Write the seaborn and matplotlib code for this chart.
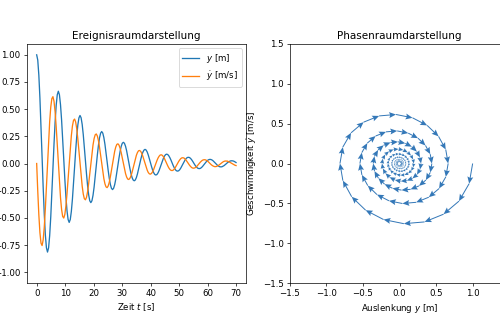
import numpy as np
import pandas as pd
import matplotlib
matplotlib.use("Agg")
import matplotlib.pyplot as plt
import seaborn as sns

# time samples [s]
t_s = [
    0.00, 0.38, 0.76, 1.14, 1.52, 1.90, 2.28, 2.66, 3.04, 3.42,
    3.80, 4.18, 4.56, 4.94, 5.32, 5.70, 6.08, 6.46, 6.84, 7.22,
    7.60, 7.98, 8.36, 8.74, 9.12, 9.50, 9.88, 10.26, 10.64, 11.02,
    11.40, 11.78, 12.16, 12.54, 12.92, 13.30, 13.68, 14.06, 14.44, 14.82,
    15.20, 15.58, 15.96, 16.34, 16.72, 17.10, 17.48, 17.86, 18.24, 18.62,
    19.00, 19.38, 19.76, 20.14, 20.52, 20.90, 21.28, 21.66, 22.04, 22.42,
    22.80, 23.18, 23.56, 23.94, 24.32, 24.70, 25.08, 25.46, 25.84, 26.22,
    26.60, 26.98, 27.36, 27.74, 28.12, 28.50, 28.88, 29.26, 29.64, 30.02,
    30.40, 30.78, 31.16, 31.54, 31.92, 32.30, 32.68, 33.06, 33.44, 33.82,
    34.20, 34.58, 34.96, 35.34, 35.72, 36.10, 36.48, 36.86, 37.24, 37.62,
    38.00, 38.38, 38.76, 39.14, 39.52, 39.90, 40.28, 40.66, 41.04, 41.42,
    41.80, 42.18, 42.56, 42.94, 43.32, 43.70, 44.08, 44.46, 44.84, 45.22,
    45.60, 45.98, 46.36, 46.74, 47.12, 47.50, 47.88, 48.26, 48.64, 49.02,
    49.40, 49.78, 50.16, 50.54, 50.92, 51.30, 51.68, 52.06, 52.44, 52.82,
    53.20, 53.58, 53.96, 54.34, 54.72, 55.10, 55.48, 55.86, 56.24, 56.62,
    57.00, 57.38, 57.76, 58.14, 58.52, 58.90, 59.28, 59.66, 60.04, 60.42,
    60.80, 61.18, 61.56, 61.94, 62.32, 62.70, 63.08, 63.46, 63.84, 64.22,
    64.60, 64.98, 65.36, 65.74, 66.12, 66.50, 66.88, 67.26, 67.64, 68.02,
    68.40, 68.78, 69.16, 69.54, 69.92,
]

# displacement y [m]
y_m = [
    1.000, 0.952, 0.813, 0.602, 0.342, 0.059, -0.219, -0.464, -0.655, -0.775,
    -0.815, -0.776, -0.663, -0.491, -0.279, -0.048, 0.178, 0.378, 0.534, 0.632,
    0.665, 0.633, 0.541, 0.400, 0.227, 0.039, -0.145, -0.309, -0.435, -0.515,
    -0.542, -0.516, -0.441, -0.327, -0.185, -0.032, 0.119, 0.252, 0.355, 0.420,
    0.442, 0.421, 0.360, 0.266, 0.151, 0.026, -0.097, -0.205, -0.289, -0.343,
    -0.360, -0.343, -0.293, -0.217, -0.123, -0.021, 0.079, 0.167, 0.236, 0.279,
    0.294, 0.280, 0.239, 0.177, 0.100, 0.017, -0.064, -0.136, -0.192, -0.228,
    -0.240, -0.228, -0.195, -0.144, -0.082, -0.014, 0.052, 0.111, 0.157, 0.186,
    0.195, 0.186, 0.159, 0.118, 0.067, 0.011, -0.043, -0.091, -0.128, -0.151,
    -0.159, -0.152, -0.130, -0.096, -0.054, -0.009, 0.035, 0.074, 0.104, 0.123,
    0.130, 0.124, 0.106, 0.078, 0.044, 0.008, -0.028, -0.060, -0.085, -0.101,
    -0.106, -0.101, -0.086, -0.064, -0.036, -0.006, 0.023, 0.049, 0.069, 0.082,
    0.086, 0.082, 0.070, 0.052, 0.030, 0.005, -0.019, -0.040, -0.057, -0.067,
    -0.070, -0.067, -0.057, -0.042, -0.024, -0.004, 0.015, 0.033, 0.046, 0.055,
    0.057, 0.055, 0.047, 0.035, 0.020, 0.003, -0.013, -0.027, -0.038, -0.045,
    -0.047, -0.045, -0.038, -0.028, -0.016, -0.003, 0.010, 0.022, 0.031, 0.036,
    0.038, 0.036, 0.031, 0.023, 0.013, 0.002, -0.008, -0.018, -0.025, -0.030,
    -0.031, -0.030, -0.025, -0.019, -0.011, -0.002, 0.007, 0.014, 0.020, 0.024,
    0.025, 0.024, 0.021, 0.015, 0.009,
]

# velocity y' [m/s]
v_ms = [
    0.000, -0.253, -0.472, -0.636, -0.733, -0.755, -0.703, -0.586, -0.417, -0.215,
    0.000, 0.206, 0.385, 0.519, 0.597, 0.615, 0.573, 0.478, 0.340, 0.175,
    0.000, -0.168, -0.314, -0.423, -0.487, -0.502, -0.468, -0.390, -0.277, -0.143,
    0.000, 0.137, 0.256, 0.345, 0.397, 0.409, 0.381, 0.318, 0.226, 0.117,
    0.000, -0.112, -0.208, -0.281, -0.324, -0.334, -0.311, -0.259, -0.184, -0.095,
    0.000, 0.091, 0.170, 0.229, 0.264, 0.272, 0.253, 0.211, 0.150, 0.077,
    0.000, -0.074, -0.139, -0.187, -0.215, -0.222, -0.207, -0.172, -0.123, -0.063,
    0.000, 0.061, 0.113, 0.152, 0.176, 0.181, 0.169, 0.140, 0.100, 0.052,
    0.000, -0.049, -0.092, -0.124, -0.143, -0.147, -0.137, -0.115, -0.082, -0.042,
    0.000, 0.040, 0.075, 0.101, 0.117, 0.120, 0.112, 0.093, 0.066, 0.034,
    0.000, -0.033, -0.061, -0.083, -0.095, -0.098, -0.091, -0.076, -0.054, -0.028,
    0.000, 0.027, 0.050, 0.067, 0.078, 0.080, 0.075, 0.062, 0.044, 0.023,
    0.000, -0.022, -0.041, -0.055, -0.063, -0.065, -0.061, -0.051, -0.036, -0.019,
    0.000, 0.018, 0.033, 0.045, 0.052, 0.053, 0.050, 0.041, 0.029, 0.015,
    0.000, -0.015, -0.027, -0.037, -0.042, -0.043, -0.040, -0.034, -0.024, -0.012,
    0.000, 0.012, 0.022, 0.030, 0.034, 0.035, 0.033, 0.027, 0.020, 0.010,
    0.000, -0.010, -0.018, -0.024, -0.028, -0.029, -0.027, -0.022, -0.016, -0.008,
    0.000, 0.008, 0.015, 0.020, 0.023, 0.023, 0.022, 0.018, 0.013, 0.007,
    0.000, -0.006, -0.012, -0.016, -0.019,
]

title_left = "Ereignisraumdarstellung"
title_right = "Phasenraumdarstellung"
label_y = "$y$ [m]"
label_v = r"$\dot{y}$ [m/s]"

df = pd.DataFrame({"t": t_s, "y": y_m, "v": v_ms})

fig = plt.figure(figsize=(8, 5.328), dpi=62.5)
ax1 = fig.add_subplot(1, 2, 1)
ax2 = fig.add_subplot(1, 2, 2)
fig.subplots_adjust(left=0.0534, right=1.0184, bottom=0.150, top=0.868, wspace=0.2)

sns.lineplot(data=df, x="t", y="y", ax=ax1, color="C0", label=label_y, sort=False)
sns.lineplot(data=df, x="t", y="v", ax=ax1, color="C1", label=label_v, sort=False)
ax1.set_ylim(-1.1, 1.1)
ax1.set_yticks([-1.0, -0.75, -0.5, -0.25, 0.0, 0.25, 0.5, 0.75, 1.0])
ax1.set_xticks([0, 10, 20, 30, 40, 50, 60, 70])
ax1.set_xlabel("Zeit $t$ [s]")
ax1.set_ylabel("")
ax1.set_title(title_left)
ax1.legend(loc="upper right")

yy = df["y"].to_numpy()
vv = df["v"].to_numpy()
ax2.quiver(yy[:-1], vv[:-1], np.diff(yy), np.diff(vv),
           angles="xy", scale_units="xy", scale=1, color="#3478b8",
           width=0.0045, headwidth=6, headlength=7, headaxislength=6)
ax2.set_xlim(-1.5, 1.5)
ax2.set_ylim(-1.5, 1.5)
ax2.set_xlabel("Auslenkung $y$ [m]")
ax2.set_ylabel(r"Geschwindigkeit $\dot{y}$ [m/s]")
ax2.set_title(title_right)

fig.savefig("out.png", dpi=62.5)
